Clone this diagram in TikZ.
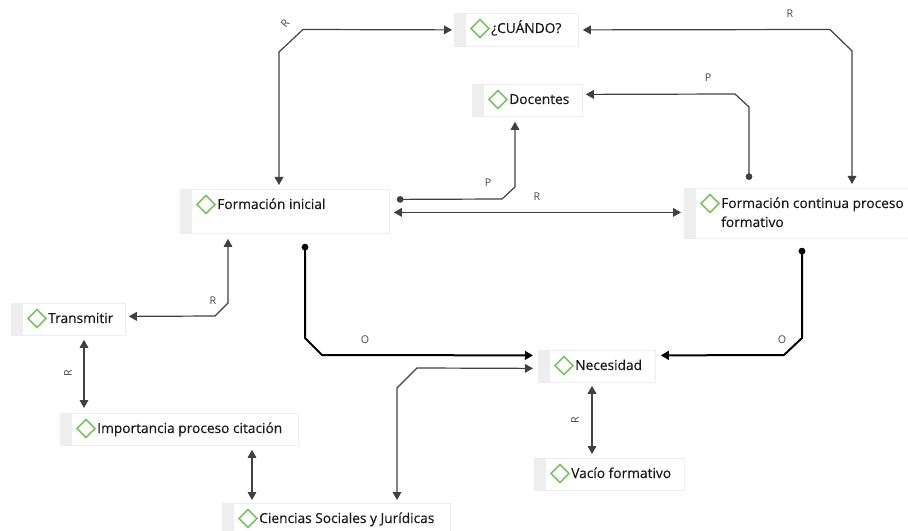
\documentclass[tikz,border=0pt]{standalone}
\usepackage{fontspec}
\setmainfont{Open Sans}
\newfontfamily\cfont{Open Sans}[FakeBold=0.35]
\usetikzlibrary{arrows.meta,calc,shapes.geometric}
\definecolor{dgreen}{HTML}{7AC35E}
\definecolor{strip}{HTML}{EEEEEE}
\definecolor{edge}{HTML}{EDEDED}
\newcommand\cpt[6]{%
  \node[cbox, minimum width={#4*0.75pt}, minimum height={#5*0.75pt}] (#1) at (#2,#3) {};
  \node[diam] (#1-d) at ($(#1.north west)+(26,15.5)$) {};
  \node[txt] (#1-t) at ($(#1.north west)+(37,20)$) {#6};
}
\begin{document}
\begin{tikzpicture}[x=0.75pt,y=-0.75pt,
  cbox/.style={draw=edge, fill=white, anchor=north west, inner sep=0, line width=0.6pt,
    path picture={\fill[strip] (path picture bounding box.north west) rectangle ([xshift=9pt]path picture bounding box.south west);}},
  diam/.style={diamond, draw=dgreen, line width=1.1pt, minimum width=14pt, minimum height=14pt, inner sep=0},
  txt/.style={anchor=base west, inner sep=0, font=\cfont\fontsize{10.3}{14.25}\selectfont, text=black!90},
  link/.style={draw=black!75, line width=0.9pt},
  strong/.style={draw=black, line width=1.5pt},
  lab/.style={font=\fontsize{8}{9}\selectfont, text=black!72, inner sep=0},
  >={Triangle[length=6pt,width=6.5pt]},
  dotarr/.style={{Circle[length=5pt]}->}
]
\useasboundingbox (0,0) rectangle (908,531);

\cpt{cu}{454}{13}{124}{33}{¿CUÁNDO?}
\cpt{doc}{472}{84}{110}{32}{Docentes}
\cpt{fi}{180}{189}{209}{44}{Formación inicial}
\cpt{fc}{684}{188}{226}{50}{\vtop{\hbox{Formación continua proceso}\hbox{formativo}}}
\cpt{tr}{11}{303}{114}{32}{Transmitir}
\cpt{imp}{60}{413}{238}{32}{Importancia proceso citación}
\cpt{nec}{538}{350}{117}{32}{Necesidad}
\cpt{vac}{534}{458}{150}{32}{Vacío formativo}
\cpt{cie}{222}{503}{228}{32}{Ciencias Sociales y Jurídicas}

% FI <-> CUANDO
\draw[link,<->] ($(fi.north west)+(99,-4)$) -- (279,52) -- (303,29.5) -- ($(cu.west)+(-2,0)$);
\node[lab, rotate=50] (l1) at (285,24) {R};
% CUANDO <-> FC
\draw[link,<->] ($(cu.east)+(4,0)$) -- (830,29.5) -- (852,51) -- ($(fc.north west)+(168,-4)$);
\node[lab] (l2) at (790,14) {R};
% FI -> Docentes
\draw[link,dotarr] ($(fi.east)+(7,-12)$) -- (502,199) -- (515,187) -- ($(doc.south west)+(43,5)$);
\node[lab] (l3) at (488,183) {P};
% FI <-> FC
\draw[link,<->] ($(fi.east)+(4,1)$) -- ($(fc.west)+(-3,-1)$);
\node[lab] (l4) at (537,197) {R};
% FC -> Docentes
\draw[link,dotarr] ($(fc.north west)+(65,-8)$) -- (749,107) -- (735,94) -- ($(doc.east)+(3,-6)$);
\node[lab] (l5) at (708,78) {P};
% Transmitir <-> FI
\draw[link,<->] ($(tr.east)+(3,-3)$) -- (215,316) -- (228,303) -- ($(fi.south west)+(48,5)$);
\node[lab] (l6) at (213,301) {R};
% FI -> Necesidad
\draw[strong,dotarr] ($(fi.south west)+(125,10)$) -- (305,338) -- (322,355) -- ($(nec.west)+(-5,-11)$);
\node[lab] (l7) at (365,340) {O};
% FC -> Necesidad
\draw[strong,dotarr] ($(fc.south west)+(118,9)$) -- (802,338) -- (784,355) -- ($(nec.east)+(5,-11)$);
\node[lab] (l8) at (782,340) {O};
% Ciencias <-> Necesidad
\draw[link,<->] ($(cie.north west)+(175,-3)$) -- (397,388) -- (417,368) -- ($(nec.west)+(-5,2)$);
% Transmitir <-> Importancia
\draw[link,<->] ($(tr.south west)+(73,4)$) -- ($(imp.north west)+(24,-5)$);
\node[lab, rotate=90] (l9) at (68,373) {R};
% Importancia <-> Ciencias
\draw[link,<->] ($(imp.south west)+(192,4)$) -- ($(cie.north west)+(30,-3)$);
% Necesidad <-> Vacio
\draw[link,<->] ($(nec.south west)+(54,3)$) -- ($(vac.north west)+(58,-4)$);
\node[lab, rotate=90] (l10) at (575,420) {R};
\end{tikzpicture}
\end{document}
